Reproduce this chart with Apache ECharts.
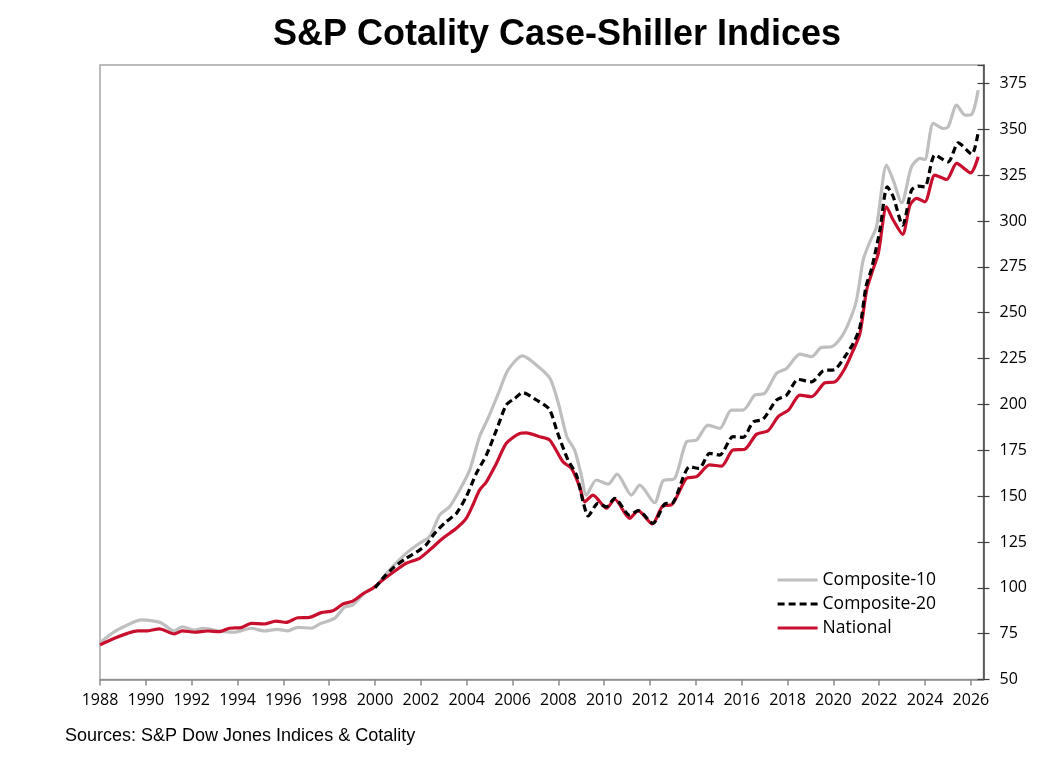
<!DOCTYPE html>
<html>
<head>
<meta charset="utf-8">
<title>S&amp;P Cotality Case-Shiller Indices</title>
<script src="https://cdn.jsdelivr.net/npm/echarts@6/dist/echarts.min.js"></script>
<style>
  html, body { margin: 0; padding: 0; background: #fff; }
  #main { width: 1064px; height: 766px; }
</style>
</head>
<body>
<div id="main"></div>
<script>
// values (year as decimal, index level)
var c10Years = [1988.0, 1988.63, 1989.2, 1989.8, 1990.37, 1990.66, 1991.24, 1991.6, 1992.12, 1992.55,
  1993.14, 1993.86, 1994.6, 1995.17, 1995.75, 1996.19, 1996.63, 1997.2, 1997.65, 1998.23,
  1998.67, 1999.03, 1999.6, 2000.0, 2000.63, 2001.36, 2001.94, 2002.38, 2002.82, 2003.25,
  2003.69, 2004.13, 2004.56, 2004.93, 2005.44, 2005.8, 2006.43, 2007.18, 2007.65, 2008.0,
  2008.37, 2008.71, 2009.0, 2009.22, 2009.66, 2010.17, 2010.56, 2011.19, 2011.55, 2012.2,
  2012.57, 2013.08, 2013.59, 2014.03, 2014.53, 2015.04, 2015.55, 2016.06, 2016.57, 2017.0,
  2017.52, 2017.96, 2018.54, 2019.05, 2019.48, 2019.92, 2020.36, 2020.72, 2021.01, 2021.3,
  2021.59, 2021.88, 2022.32, 2022.61, 2022.98, 2023.41, 2023.78, 2023.99, 2024.36, 2024.8,
  2025.01, 2025.38, 2025.74, 2026.04, 2026.32];
var c10Values = [70.1, 76.1, 79.8, 82.5, 81.9, 81.0, 76.5, 78.8, 77.0, 78.0,
  76.6, 75.8, 78.0, 76.5, 77.4, 76.6, 78.5, 78.0, 80.7, 83.4,
  89.4, 90.7, 97.9, 100.5, 109.7, 118.8, 124.3, 127.9, 139.7, 144.2,
  153.3, 164.2, 182.4, 192.4, 207.8, 218.7, 226.4, 220.0, 213.8, 200.6,
  182.4, 175.1, 161.5, 150.6, 158.8, 156.6, 162.0, 150.6, 156.0, 146.4,
  158.4, 159.7, 179.6, 180.6, 188.7, 186.9, 196.9, 196.9, 205.1, 206.0,
  216.9, 219.6, 227.4, 226.0, 231.1, 231.4, 236.9, 246.0, 256.9, 278.7,
  288.6, 296.8, 330.5, 322.3, 309.9, 329.6, 334.1, 333.5, 353.2, 350.4,
  351.3, 363.1, 357.7, 358.2, 371.3];

var c20Years = [2000.0, 2000.4, 2000.85, 2001.36, 2001.94, 2002.23, 2002.6, 2003.1, 2003.55, 2003.98,
  2004.42, 2004.86, 2005.3, 2005.73, 2006.1, 2006.45, 2007.04, 2007.6, 2007.95, 2008.42,
  2008.79, 2009.08, 2009.3, 2009.73, 2010.1, 2010.46, 2011.11, 2011.48, 2012.13, 2012.64,
  2013.0, 2013.73, 2014.14, 2014.6, 2015.04, 2015.62, 2016.06, 2016.5, 2016.93, 2017.52,
  2017.96, 2018.46, 2019.05, 2019.55, 2020.07, 2020.5, 2020.87, 2021.16, 2021.42, 2021.67,
  2022.03, 2022.35, 2022.61, 2023.02, 2023.41, 2023.7, 2023.99, 2024.43, 2025.01, 2025.45,
  2026.04, 2026.32];
var c20Values = [100.0, 106.0, 111.5, 116.1, 120.6, 123.4, 129.7, 136.0, 140.6, 149.7,
  162.4, 172.4, 186.1, 199.7, 203.3, 206.4, 202.4, 197.5, 185.0, 169.7,
  161.5, 146.9, 139.2, 146.1, 144.2, 148.8, 139.7, 142.1, 135.2, 145.7,
  146.4, 166.0, 165.1, 173.3, 172.4, 182.4, 182.0, 190.5, 191.9, 202.4,
  205.1, 213.6, 212.3, 218.3, 219.1, 226.0, 233.3, 242.3, 264.1, 274.1,
  295.0, 318.6, 313.2, 297.7, 316.8, 319.0, 318.6, 335.9, 332.2, 342.6,
  336.4, 348.6];

var natYears = [1988.0, 1988.63, 1989.2, 1989.64, 1990.08, 1990.59, 1991.24, 1991.6, 1992.12, 1992.7,
  1993.2, 1993.65, 1994.16, 1994.6, 1995.17, 1995.68, 1996.12, 1996.63, 1997.14, 1997.65,
  1998.16, 1998.6, 1999.03, 1999.5, 1999.9, 2000.34, 2000.93, 2001.36, 2001.94, 2002.38,
  2002.96, 2003.55, 2003.98, 2004.3, 2004.56, 2004.86, 2005.3, 2005.73, 2006.31, 2006.6,
  2007.18, 2007.62, 2008.2, 2008.57, 2008.93, 2009.15, 2009.51, 2010.1, 2010.46, 2011.11,
  2011.48, 2012.1, 2012.57, 2012.93, 2013.59, 2014.03, 2014.6, 2015.12, 2015.62, 2016.13,
  2016.65, 2017.15, 2017.6, 2018.05, 2018.54, 2019.05, 2019.63, 2020.07, 2020.5, 2020.87,
  2021.16, 2021.45, 2021.67, 2021.96, 2022.32, 2022.61, 2023.02, 2023.34, 2023.63, 2023.99,
  2024.43, 2024.94, 2025.38, 2025.99, 2026.32];
var natValues = [68.9, 72.5, 75.2, 76.6, 76.6, 77.7, 74.9, 76.6, 75.8, 76.5,
  76.1, 78.0, 78.3, 80.7, 80.3, 81.9, 81.2, 83.7, 83.9, 86.5,
  87.5, 91.2, 92.8, 97.0, 99.8, 104.3, 109.7, 113.4, 116.1, 120.6,
  127.0, 132.5, 137.9, 146.0, 153.3, 157.8, 167.9, 178.8, 184.2, 184.5,
  182.4, 180.6, 168.7, 165.1, 155.1, 146.9, 150.6, 143.4, 148.3, 137.9,
  142.1, 134.8, 144.8, 145.2, 159.7, 160.6, 167.0, 166.4, 175.1, 175.5,
  183.8, 185.6, 193.5, 197.0, 205.1, 204.2, 211.8, 212.3, 219.6, 229.6,
  238.7, 262.3, 271.4, 282.3, 307.7, 300.5, 292.7, 308.6, 312.3, 310.4,
  325.0, 322.6, 331.4, 326.2, 335.0];

function pairs(xs, ys) {
  var out = [];
  for (var i = 0; i < xs.length; i++) out.push([xs[i], ys[i]]);
  return out;
}

var tickFont = '"Open Sans", "Noto Sans", sans-serif';

var myChart = echarts.init(document.getElementById('main'));
var option = {
  animation: false,
  backgroundColor: '#ffffff',
  graphic: [
    {
      type: 'text', x: 557, y: 35,
      style: { text: 'S&P Cotality Case-Shiller Indices', fill: '#000',
        font: 'bold 36px "Liberation Sans", Arial, sans-serif',
        align: 'center', verticalAlign: 'middle' }
    },
    {
      type: 'text', x: 65, y: 736,
      style: { text: 'Sources: S&P Dow Jones Indices & Cotality', fill: '#000',
        font: '18px "Liberation Sans", Arial, sans-serif',
        align: 'left', verticalAlign: 'middle' }
    }
  ],
  grid: {
    left: 100, right: 80.5, top: 65, bottom: 86.4,
    show: true, borderColor: '#a6a6a6', borderWidth: 1.5, backgroundColor: 'transparent'
  },
  legend: {
    orient: 'vertical',
    left: 776, top: 571,
    padding: 0,
    itemWidth: 40, itemHeight: 14, itemGap: 6,
    data: ['Composite-10', 'Composite-20', 'National'],
    itemStyle: { opacity: 0 },
    lineStyle: { width: 3.2 },
    textStyle: { color: '#000', fontSize: 17.5, fontFamily: tickFont }
  },
  xAxis: {
    type: 'value',
    min: 1988, max: 2026.55, interval: 2,
    splitLine: { show: false },
    axisLine: { show: true, lineStyle: { color: '#8c8c8c', width: 1.5 } },
    axisTick: { show: true, inside: false, length: 6, lineStyle: { color: '#8c8c8c', width: 1.5 } },
    axisLabel: { showMaxLabel: false, margin: 13, color: '#000', fontSize: 16, fontFamily: tickFont,
      formatter: function (v) { return String(v); } }
  },
  yAxis: [
    {
      type: 'value', position: 'right',
      min: 50, max: 385, interval: 25,
      splitLine: { show: false },
      axisLine: { show: true, lineStyle: { color: '#404040', width: 1.5 } },
      axisTick: { show: true, inside: false, length: 6, lineStyle: { color: '#404040', width: 1.2 } },
      axisLabel: { showMaxLabel: false, margin: 16, color: '#000', fontSize: 16, fontFamily: tickFont }
    },
    {
      // same scale, only to draw the inner half of the crossing ticks
      type: 'value', position: 'right',
      min: 50, max: 385, interval: 25,
      splitLine: { show: false },
      axisLine: { show: false },
      axisTick: { show: true, inside: true, length: 6, lineStyle: { color: '#404040', width: 1.2 } },
      axisLabel: { show: false }
    }
  ],
  series: [
    {
      name: 'Composite-10', type: 'line', symbol: 'none', smooth: 0.25, z: 2,
      data: pairs(c10Years, c10Values),
      lineStyle: { color: '#bfbfbf', width: 3.2 },
      itemStyle: { color: '#bfbfbf' }
    },
    {
      name: 'National', type: 'line', symbol: 'none', smooth: 0.25, z: 3,
      data: pairs(natYears, natValues),
      lineStyle: { color: '#c8102e', width: 3.2 },
      itemStyle: { color: '#c8102e' }
    },
    {
      name: 'Composite-20', type: 'line', symbol: 'none', smooth: 0.25, z: 4,
      data: pairs(c20Years, c20Values),
      lineStyle: { color: '#000000', width: 3.2, type: [7, 4] },
      itemStyle: { color: '#000000' }
    }
  ]
};
myChart.setOption(option);
</script>
</body>
</html>
